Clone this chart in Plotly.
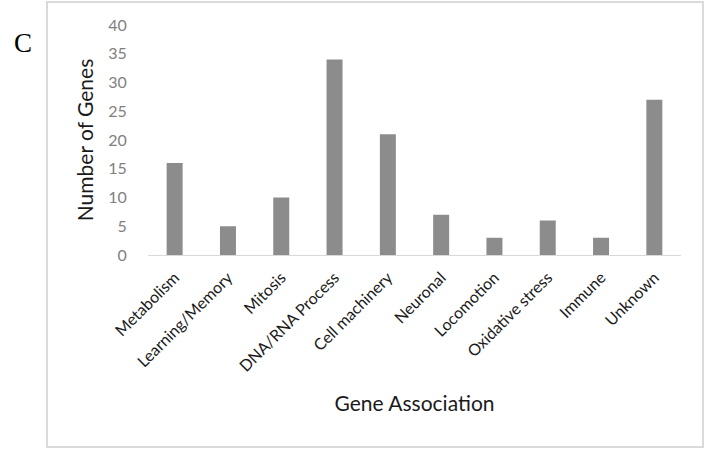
import plotly.graph_objects as go

categories = ["Metabolism", "Learning/Memory", "Mitosis", "DNA/RNA Process", "Cell machinery",
              "Neuronal", "Locomotion", "Oxidative stress", "Immune", "Unknown"]
gene_counts = [16, 5, 10, 34, 21, 7, 3, 6, 3, 27]
y_ticks = [0, 5, 10, 15, 20, 25, 30, 35, 40]

W, H = 706, 450
L, R, T = 148, 25, 25
B = H - 255
pw, ph = W - L - R, H - T - B

def px_x(x):
    return (x - L) / pw

def px_y(y):
    return (H - B - y) / ph

fig = go.Figure(go.Bar(x=categories, y=gene_counts, marker_color="#8c8c8c", marker_line_width=0))

fig.update_layout(
    width=W, height=H,
    margin=dict(l=L, r=R, t=T, b=B, autoexpand=False),
    paper_bgcolor="white", plot_bgcolor="white",
    bargap=0.7,
    showlegend=False,
    font=dict(family="Lato, Open Sans, sans-serif"),
    xaxis=dict(
        tickangle=-45, tickfont=dict(size=16, color="#1a1a1a"),
        showline=True, linecolor="#d9d9d9", linewidth=1,
        ticks="outside", ticklen=6, tickcolor="rgba(0,0,0,0)",
        showgrid=False,
        title=dict(text="Gene Association", font=dict(size=21, color="#1a1a1a"), standoff=22),
    ),
    yaxis=dict(
        range=[0, 40], tickvals=y_ticks, tickfont=dict(size=16, color="#7f7f7f"),
        showgrid=False, zeroline=False, showline=False,
        ticks="outside", ticklen=17, tickcolor="rgba(0,0,0,0)",
        title=dict(text="Number of Genes", font=dict(size=21, color="#1a1a1a"), standoff=8),
    ),
    shapes=[dict(type="rect", xref="paper", yref="paper",
                 x0=px_x(47), x1=px_x(703), y0=px_y(447), y1=px_y(2),
                 line=dict(color="#dadada", width=2), layer="below")],
    annotations=[dict(text="C", xref="paper", yref="paper", x=px_x(12), y=px_y(26),
                      showarrow=False, font=dict(family="Liberation Serif, Times New Roman, serif", size=27, color="black"))],
)

fig.write_html("out.html", config={"displayModeBar": False},
               post_script="document.body.style.margin='0';document.body.style.overflow='hidden';")
